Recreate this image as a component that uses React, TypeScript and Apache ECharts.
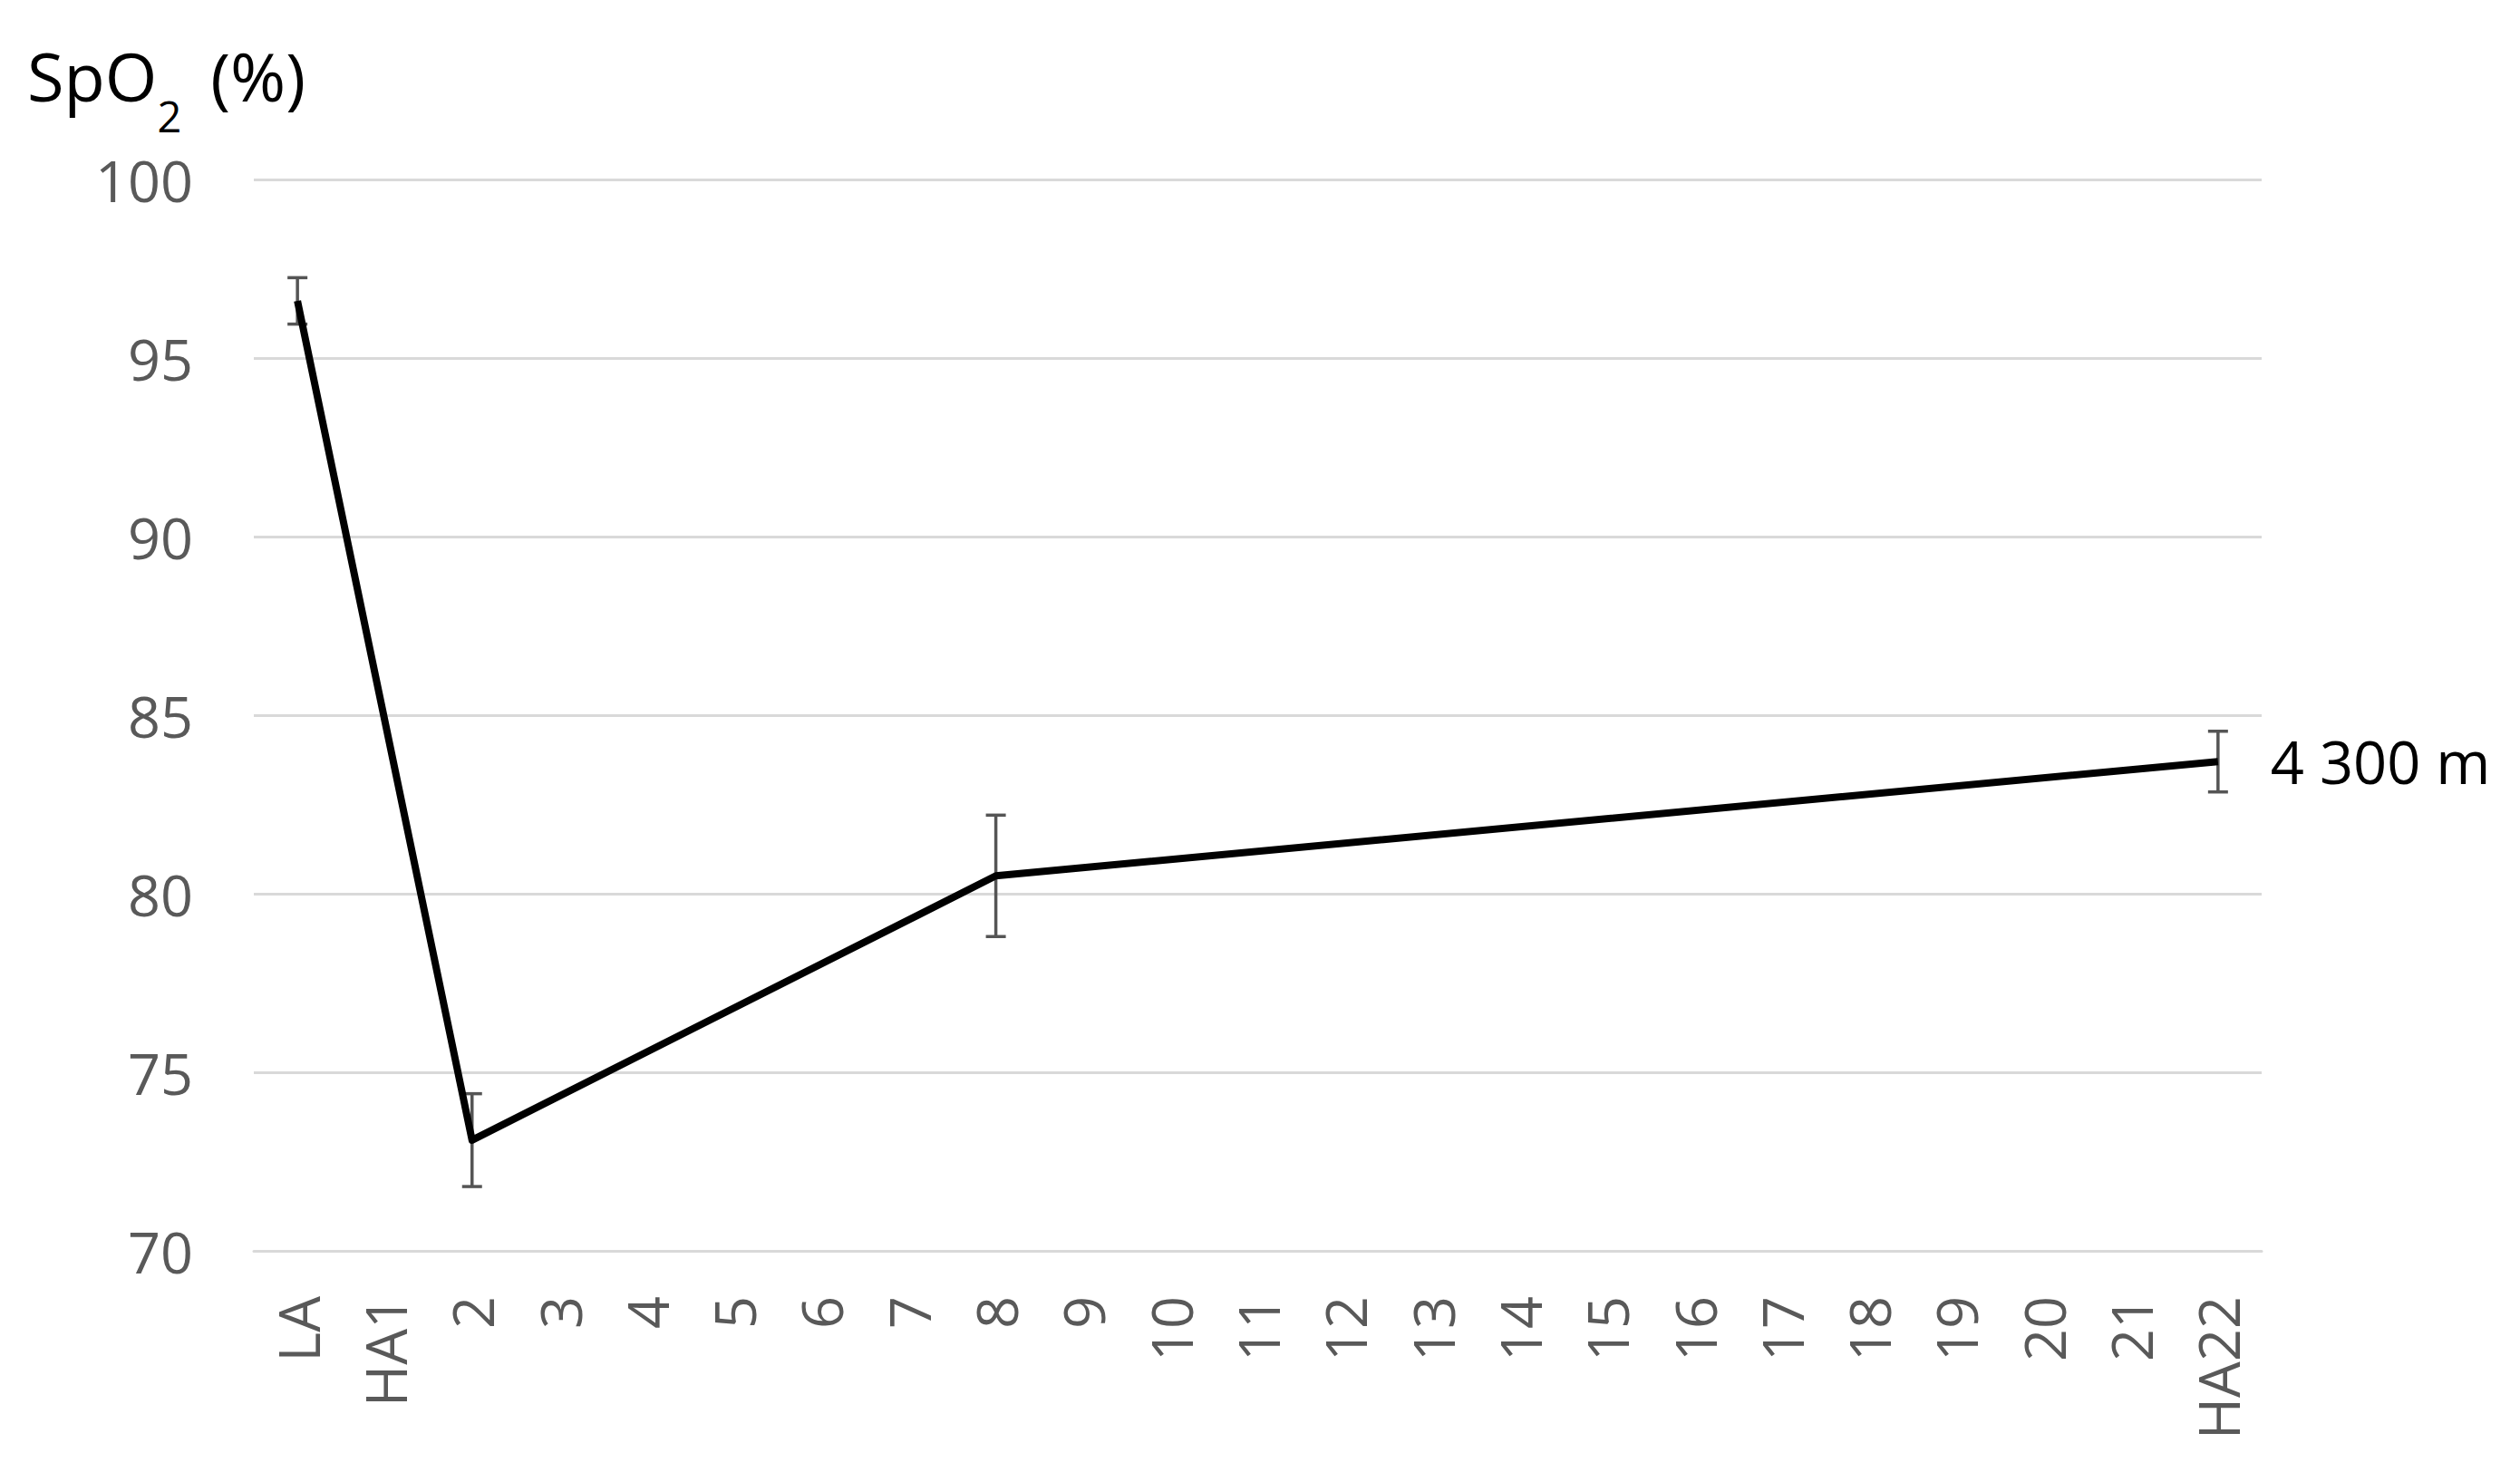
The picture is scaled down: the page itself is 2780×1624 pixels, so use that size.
import React, { useEffect, useRef } from "react";
import * as echarts from "echarts";

const categories: string[] = [
  "LA", "HA1", "2", "3", "4", "5", "6", "7", "8", "9", "10", "11",
  "12", "13", "14", "15", "16", "17", "18", "19", "20", "21", "HA22",
];
const measuredDays: string[] = ["LA", "2", "8", "HA22"];
const spo2Mean: number[] = [96.6, 73.1, 80.5, 83.7];
const spo2Err: number[] = [0.65, 1.3, 1.7, 0.85];
const yTicks = { min: 70, max: 100, interval: 5 };
const seriesLabel = "4 300 m";

const FONT = "'Open Sans', 'Liberation Sans', sans-serif";

export default function App() {
  const ref = useRef<HTMLDivElement>(null);
  useEffect(() => {
    if (!ref.current) return;
    const chart = echarts.init(ref.current, null, { renderer: "svg" });

    const lineData: (number | null)[] = categories.map((c) => {
      const i = measuredDays.indexOf(c);
      return i >= 0 ? spo2Mean[i] : null;
    });
    const errData = measuredDays.map((d, i) => [
      categories.indexOf(d),
      spo2Mean[i] - spo2Err[i],
      spo2Mean[i] + spo2Err[i],
    ]);

    chart.setOption({
      animation: false,
      backgroundColor: "#ffffff",
      grid: { left: 280, right: 285, top: 198, bottom: 244 },
      graphic: [
        {
          type: "text",
          x: 30,
          y: 151,
          style: {
            text: "{a|SpO}{b|2}{c|(%)}",
            fill: "#000",
            verticalAlign: "bottom",
            rich: {
              a: {
                fontSize: 74,
                fontFamily: FONT,
                color: "#000",
                lineHeight: 74,
                padding: [0, 0, 31, 0],
                verticalAlign: "bottom",
              },
              b: {
                fontSize: 47,
                fontFamily: FONT,
                color: "#000",
                lineHeight: 47,
                verticalAlign: "bottom",
              },
              c: {
                fontSize: 74,
                fontFamily: FONT,
                color: "#000",
                lineHeight: 74,
                padding: [0, 0, 31, 32],
                verticalAlign: "bottom",
              },
            },
          },
        },
      ],
      xAxis: {
        type: "category",
        data: categories,
        boundaryGap: true,
        axisLine: { show: true, lineStyle: { color: "#d9d9d9", width: 3 } },
        axisTick: { show: false },
        axisLabel: {
          rotate: 90,
          interval: 0,
          margin: 50,
          fontSize: 63,
          fontFamily: FONT,
          color: "#595959",
        },
        splitLine: { show: false },
      },
      yAxis: {
        type: "value",
        min: yTicks.min,
        max: yTicks.max,
        interval: yTicks.interval,
        axisLine: { show: false },
        axisTick: { show: false },
        axisLabel: {
          margin: 67,
          fontSize: 63,
          fontFamily: FONT,
          color: "#595959",
        },
        splitLine: { show: true, lineStyle: { color: "#d9d9d9", width: 3 } },
      },
      series: [
        {
          type: "custom",
          z: 2,
          data: errData,
          encode: { x: 0, y: [1, 2] },
          renderItem: (params: any, api: any) => {
            const xi = api.value(0);
            const lo = api.coord([xi, api.value(1)]);
            const hi = api.coord([xi, api.value(2)]);
            const half = 11;
            const style = { stroke: "#555555", lineWidth: 3.5 };
            return {
              type: "group",
              children: [
                { type: "line", shape: { x1: lo[0], y1: lo[1], x2: hi[0], y2: hi[1] }, style },
                { type: "line", shape: { x1: lo[0] - half, y1: lo[1], x2: lo[0] + half, y2: lo[1] }, style },
                { type: "line", shape: { x1: hi[0] - half, y1: hi[1], x2: hi[0] + half, y2: hi[1] }, style },
              ],
            };
          },
        },
        {
          type: "line",
          z: 3,
          data: lineData,
          connectNulls: true,
          symbol: "none",
          showSymbol: false,
          lineStyle: { color: "#000000", width: 8, join: "round" },
          endLabel: {
            show: true,
            formatter: seriesLabel,
            distance: 58,
            fontSize: 65,
            fontFamily: FONT,
            color: "#000000",
          },
        },
      ],
    });
    return () => chart.dispose();
  }, []);

  return (
    <div
      ref={ref}
      style={{ position: "fixed", left: 0, top: 0, width: 2780, height: 1624 }}
    />
  );
}
